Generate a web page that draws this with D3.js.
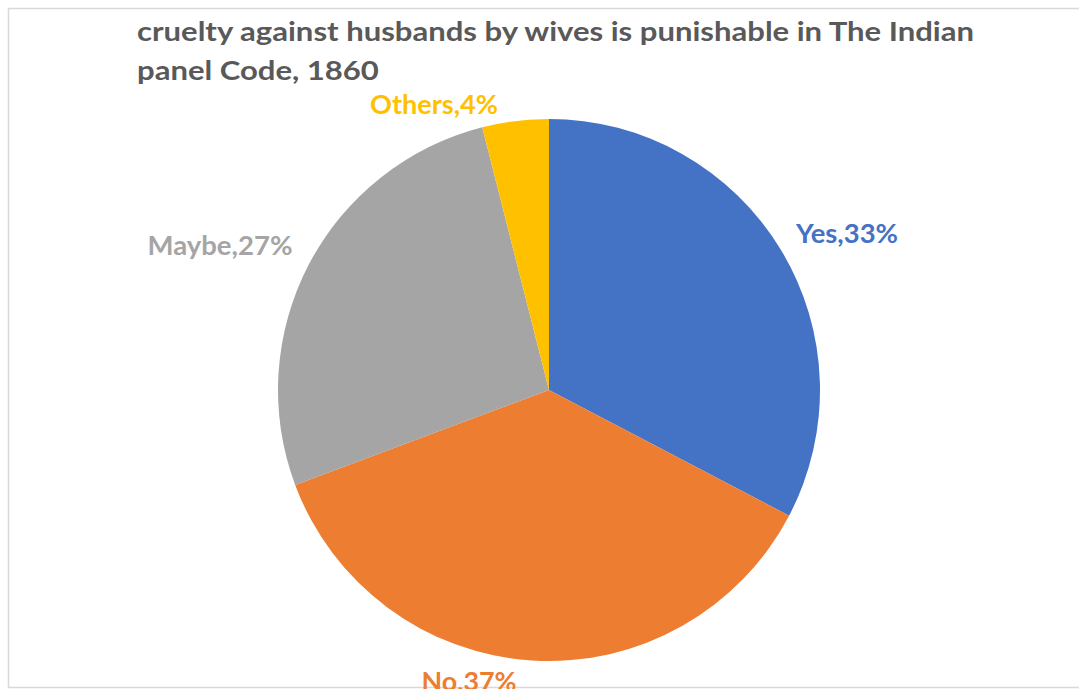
<!DOCTYPE html>
<html>
<head>
<meta charset="utf-8">
<script src="https://cdn.jsdelivr.net/npm/d3@7"></script>
<style>
  html, body { margin: 0; padding: 0; background: #fff; }
  svg { display: block; }
  text { font-family: Lato, "Open Sans", "Noto Sans", sans-serif; font-weight: 700; }
</style>
</head>
<body>
<svg id="chart" width="1079" height="689"></svg>
<script>
// Survey answers
const categories = ["Yes", "No", "Maybe", "Others"];
const values = [33, 37, 27, 4];
const colors = ["#4472C4", "#ED7D31", "#A5A5A5", "#FFC000"];
const labelTexts = ["Yes,33%", "No,37%", "Maybe,27%", "Others,4%"];
const titleLines = [
  "cruelty against husbands by wives is punishable in The Indian",
  "panel Code, 1860"
];

const svg = d3.select("#chart");
const W = 1079, H = 689;

// chart area frame
svg.append("rect")
  .attr("x", 8.5).attr("y", 8.5)
  .attr("width", W + 20).attr("height", 679)
  .attr("fill", "#fff")
  .attr("stroke", "#d9d9d9").attr("stroke-width", 1.5);

// squeeze a text horizontally to a given width (narrow, Calibri-like run)
function squeeze(sel, target) {
  sel.attr("textLength", target).attr("lengthAdjust", "spacingAndGlyphs");
}

// title
const titleSize = 27;
const t1 = svg.append("text")
  .attr("x", 137).attr("y", 41)
  .attr("fill", "#595959")
  .attr("font-size", titleSize)
  .text(titleLines[0]);
const t2 = svg.append("text")
  .attr("x", 137).attr("y", 80)
  .attr("fill", "#595959")
  .attr("font-size", titleSize)
  .text(titleLines[1]);
// both lines share the horizontal compression of the first
const l1 = t1.node().getComputedTextLength();
const l2 = t2.node().getComputedTextLength();
squeeze(t1, 837);
squeeze(t2, l2 * 837 / l1);

// pie
const cx = 549, cy = 390, R = 271;
const pie = d3.pie().sort(null).value(d => d.value);
const arc = d3.arc().innerRadius(0).outerRadius(R);
const data = categories.map((c, i) => ({ cat: c, value: values[i], color: colors[i], label: labelTexts[i] }));
const arcs = pie(data);

const g = svg.append("g").attr("transform", `translate(${cx},${cy})`);
g.selectAll("path.slice")
  .data(arcs)
  .join("path")
  .attr("class", "slice")
  .attr("d", arc)
  .attr("fill", d => d.data.color);

// outside labels: anchor (centre x, baseline y) relative to the pie centre, and run width
const labelLayout = {
  Yes:    { dx: 298,  dy: -147, width: 102 },
  No:     { dx: -80,  dy: 301,  width: 95 },
  Maybe:  { dx: -329, dy: -135, width: 145 },
  Others: { dx: -115, dy: -276, width: 128 }
};
const labelSize = 27;

g.selectAll("text.label")
  .data(arcs)
  .join("text")
  .attr("class", "label")
  .attr("x", d => labelLayout[d.data.cat].dx - labelLayout[d.data.cat].width / 2)
  .attr("y", d => labelLayout[d.data.cat].dy)
  .attr("font-size", labelSize)
  .attr("fill", d => d.data.color)
  .attr("textLength", d => labelLayout[d.data.cat].width)
  .attr("lengthAdjust", "spacingAndGlyphs")
  .text(d => d.data.label);
</script>
</body>
</html>
